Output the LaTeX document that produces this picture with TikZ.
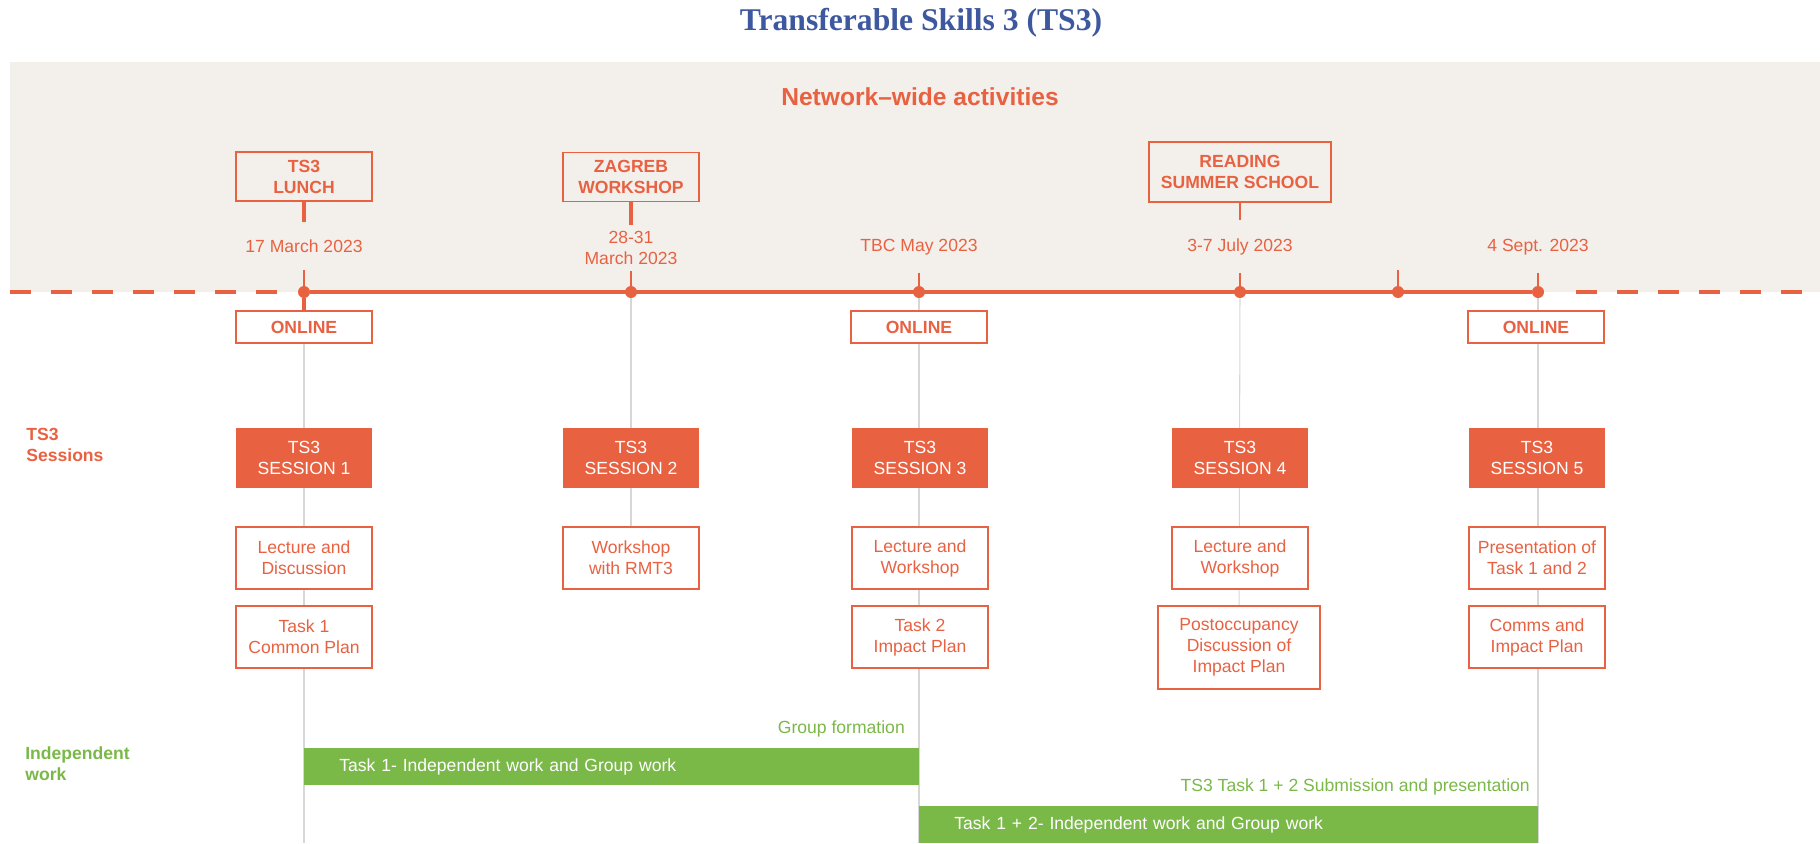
\documentclass[tikz,border=0pt]{standalone}
\usepackage{fontspec}
\setmainfont{Liberation Sans}
\newfontfamily\titlefont{Liberation Serif}
\usetikzlibrary{backgrounds}
\definecolor{tsorange}{RGB}{232,98,66}
\definecolor{tsbeige}{RGB}{243,239,235}
\definecolor{tsgreen}{RGB}{122,184,72}
\definecolor{tsblue}{RGB}{62,88,160}
\definecolor{tsgrey}{RGB}{215,215,215}
\tikzset{
  topbox/.style={draw=tsorange, line width=1.1pt, text=tsorange, font=\fontsize{10}{12}\selectfont\bfseries,
    align=center, minimum width=2.72cm, minimum height=0.98cm, inner sep=0pt},
  onlinebox/.style={topbox, fill=white, minimum height=0.64cm},
  sessbox/.style={fill=tsorange, text=white, font=\fontsize{10}{12}\selectfont, align=center,
    minimum width=2.72cm, minimum height=1.2cm, inner sep=0pt},
  infobox/.style={draw=tsorange, line width=1.1pt, fill=white, text=tsorange, font=\fontsize{10}{12}\selectfont,
    align=center, minimum width=2.72cm, minimum height=1.24cm, inner sep=0pt},
  datetxt/.style={text=tsorange, font=\fontsize{10}{12}\selectfont, align=center},
  tdot/.style={circle, fill=tsorange, minimum size=0.24cm, inner sep=0pt},
  tline/.style={draw=tsorange, line width=1.8pt},
  tickline/.style={draw=tsorange, line width=1.3pt},
  dashline/.style={dash pattern=on 0.42cm off 0.4cm},
  guide/.style={draw=tsgrey, line width=0.6pt},
  greenbar/.style={fill=tsgreen, text=white, font=\fontsize{10}{12}\selectfont, minimum height=0.74cm,
    inner xsep=0.7cm, inner ysep=0pt, align=left, anchor=north west},
  greentxt/.style={text=tsgreen, font=\fontsize{10}{12}\selectfont, anchor=east},
  rowlabel/.style={font=\fontsize{10}{12}\selectfont\bfseries, align=left, anchor=west, inner sep=0pt}
}
\begin{document}
\begin{tikzpicture}[x=0.02cm, y=-0.02cm]
\useasboundingbox (0,0) rectangle (1820,843);
\node[font=\titlefont\fontsize{18}{22}\selectfont\bfseries, text=tsblue] (title) at (921,23) {Transferable Skills 3 (TS3)};
\node[font=\fontsize{14}{17}\selectfont\bfseries, text=tsorange] (network) at (920,97) {Network--wide activities};

% timeline
\coordinate (tlLeft) at (10,292);
\coordinate (tlRight) at (1820,292);
\node[tdot] (d1) at (304,292) {};
\node[tdot] (d2) at (631,292) {};
\node[tdot] (d3) at (919,292) {};
\node[tdot] (d4) at (1240,292) {};
\node[tdot] (dsep) at (1398,292) {};
\node[tdot] (d5) at (1538,292) {};
\draw[tline, dashline, shorten >=0.3cm] (tlLeft) -- (d1);
\draw[tline] (d1) -- (d5);
\draw[tline, dashline, shorten <=0.64cm] (d5) -- (tlRight);

\node[topbox] (lunch) at (304,176.5) {TS3\\LUNCH};
\node[topbox] (zagreb) at (631,177) {ZAGREB\\WORKSHOP};
\node[topbox, minimum width=3.64cm, minimum height=1.2cm] (reading) at (1240,172) {READING\\SUMMER SCHOOL};

\node[datetxt] (date1) at (304,246) {17 March 2023};
\node[datetxt] (date2) at (631,248) {28-31\\March 2023};
\node[datetxt] (date3) at (919,247) {TBC May 2023};
\node[datetxt] (date4) at (1240,247) {3-7 July 2023};
\node[datetxt] (date5) at (1538,247) {4 Sept. 2023};
\coordinate (sepTop) at (1398,270);

\draw[tline, shorten >=0.23cm] (lunch) -- (date1);
\draw[tline] (zagreb) -- (date2);
\draw[tsorange, line width=0.6pt, shorten >=0.25cm] (reading) -- (date4);
\draw[tickline, shorten <=0.23cm] (date1) -- (d1);
\draw[tickline] (date2) -- (d2);
\draw[tickline, shorten <=0.23cm] (date3) -- (d3);
\draw[tickline, shorten <=0.23cm] (date4) -- (d4);
\draw[tickline] (sepTop) -- (dsep);
\draw[tickline, shorten <=0.23cm] (date5) -- (d5);

\node[onlinebox] (online1) at (304,327) {ONLINE};
\node[onlinebox] (online3) at (919,327) {ONLINE};
\node[onlinebox] (online5) at (1536,327) {ONLINE};
\draw[tline] (d1) -- (online1);

% sessions
\node[rowlabel, text=tsorange] (sessLbl) at (26,445) {TS3\\Sessions};
\node[sessbox] (s1) at (304,458) {TS3\\SESSION 1};
\node[sessbox] (s2) at (631,458) {TS3\\SESSION 2};
\node[sessbox] (s3) at (920,458) {TS3\\SESSION 3};
\node[sessbox] (s4) at (1240,458) {TS3\\SESSION 4};
\node[sessbox] (s5) at (1537,458) {TS3\\SESSION 5};

\node[infobox] (lec1) at (304,558) {Lecture and\\Discussion};
\node[infobox] (task1) at (304,637) {Task 1\\Common Plan};
\node[infobox] (ws2) at (631,558) {Workshop\\with RMT3};
\node[infobox] (lec3) at (920,558) {Lecture and\\Workshop};
\node[infobox] (task2) at (920,637) {Task 2\\Impact Plan};
\node[infobox] (lec4) at (1240,558) {Lecture and\\Workshop};
\node[infobox, minimum width=3.24cm, minimum height=1.66cm] (post4) at (1239,647.5) {Postoccupancy\\Discussion of\\Impact Plan};
\node[infobox] (pres5) at (1537,558) {Presentation of\\Task 1 and 2};
\node[infobox] (comms5) at (1537,637) {Comms and\\Impact Plan};

% independent work
\node[rowlabel, text=tsgreen] (indepLbl) at (25,764) {Independent\\work};
\node[greentxt] (groupForm) at (911,729) {Group formation};
\node[greenbar, text width=10.9cm] (barA) at (304,748) {Task 1- Independent work and Group work};
\node[greentxt] (submit) at (1536,787) {TS3 Task 1 + 2 Submission and presentation};
\node[greenbar, text width=10.98cm] (barB) at (919,806) {Task 1 + 2- Independent work and Group work};

\coordinate (b1) at (304,843);
\coordinate (b3) at (919,843);
\coordinate (b5) at (1538,843);
\begin{scope}[on background layer]
\fill[tsbeige] (10,62) rectangle (tlRight);
\draw[guide] (d1) -- (b1);
\draw[guide] (d2) -- (ws2);
\draw[guide] (d3) -- (b3);
\draw[guide] (d4) -- (post4);
\draw[guide] (d5) -- (b5);
\end{scope}
\end{tikzpicture}
\end{document}
